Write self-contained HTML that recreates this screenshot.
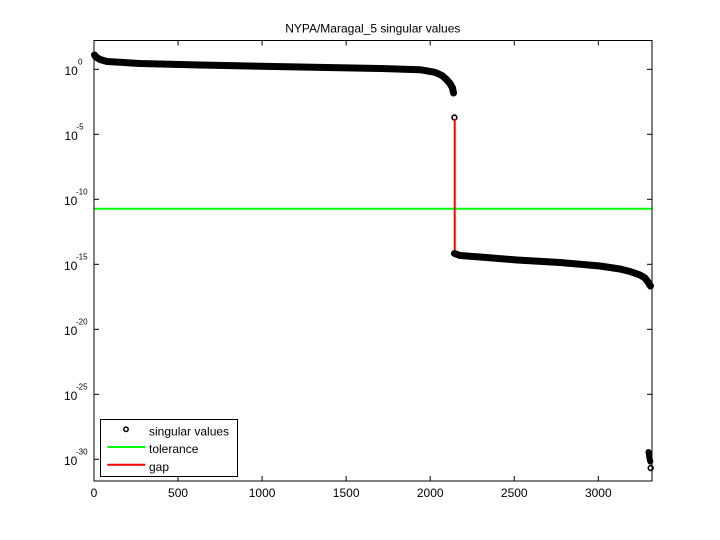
<!DOCTYPE html>
<html><head><meta charset="utf-8"><style>
html,body{margin:0;padding:0;background:#fff;}
svg{display:block;}
text{font-family:"Liberation Sans",Arial,sans-serif;fill:#000;}
</style></head><body>
<svg width="720" height="540" viewBox="0 0 720 540" xmlns="http://www.w3.org/2000/svg">
<rect x="0" y="0" width="720" height="540" fill="#fff"/>
<!-- title -->
<text x="372.8" y="32.5" font-size="12" text-anchor="middle">NYPA/Maragal_5 singular values</text>

<!-- tolerance line -->
<line x1="94" y1="208.7" x2="652" y2="208.7" stroke="#00ff00" stroke-width="2"/>

<!-- upper branch -->
<polyline fill="none" stroke="#000" stroke-width="7" stroke-linejoin="round" stroke-linecap="round"
 points="94.5,55 96,57 100,59.5 107,61.5 140,63.5 200,65 300,67 380,68.5 420,69.7 435,72.3 442,75.5 446,79 450,83.5 452.5,88 453.5,93"/>
<!-- gap point -->
<circle cx="454.4" cy="117.5" r="2.4" fill="none" stroke="#000" stroke-width="1.6"/>
<!-- red gap line -->
<line x1="454.7" y1="119" x2="454.7" y2="253" stroke="#ff0000" stroke-width="2"/>
<!-- lower branch -->
<polyline fill="none" stroke="#000" stroke-width="7" stroke-linejoin="round" stroke-linecap="round"
 points="454.5,253.5 460,255.5 480,257 517,260 560,262.5 600,266 620,269 630,271.5 640,275 645,278 648,282 650.5,286"/>
<!-- bottom right points -->
<polyline fill="none" stroke="#000" stroke-width="6" stroke-linejoin="round" stroke-linecap="round"
 points="648.5,452 649,454.5 649.3,457 649.8,459.5 650.3,461.5"/>
<circle cx="650.7" cy="468" r="2.4" fill="#fff" stroke="#000" stroke-width="1.6"/>

<!-- axes box -->
<rect x="94" y="40.5" width="558" height="440.5" fill="none" stroke="#000" stroke-width="1"/>

<!-- x ticks -->
<g stroke="#000" stroke-width="1">
<line x1="94" y1="481" x2="94" y2="476"/><line x1="94" y1="40.5" x2="94" y2="45.5"/>
<line x1="178.05" y1="481" x2="178.05" y2="476"/><line x1="178.05" y1="40.5" x2="178.05" y2="45.5"/>
<line x1="262.1" y1="481" x2="262.1" y2="476"/><line x1="262.1" y1="40.5" x2="262.1" y2="45.5"/>
<line x1="346.15" y1="481" x2="346.15" y2="476"/><line x1="346.15" y1="40.5" x2="346.15" y2="45.5"/>
<line x1="430.2" y1="481" x2="430.2" y2="476"/><line x1="430.2" y1="40.5" x2="430.2" y2="45.5"/>
<line x1="514.25" y1="481" x2="514.25" y2="476"/><line x1="514.25" y1="40.5" x2="514.25" y2="45.5"/>
<line x1="598.3" y1="481" x2="598.3" y2="476"/><line x1="598.3" y1="40.5" x2="598.3" y2="45.5"/>
</g>
<g font-size="12" text-anchor="middle">
<text x="94" y="497">0</text>
<text x="178.05" y="497">500</text>
<text x="262.1" y="497">1000</text>
<text x="346.15" y="497">1500</text>
<text x="430.2" y="497">2000</text>
<text x="514.25" y="497">2500</text>
<text x="598.3" y="497">3000</text>
</g>

<!-- y ticks -->
<g stroke="#000" stroke-width="1">
<line x1="94" y1="69.3" x2="99" y2="69.3"/><line x1="652" y1="69.3" x2="647" y2="69.3"/>
<line x1="94" y1="134.3" x2="99" y2="134.3"/><line x1="652" y1="134.3" x2="647" y2="134.3"/>
<line x1="94" y1="199.3" x2="99" y2="199.3"/><line x1="652" y1="199.3" x2="647" y2="199.3"/>
<line x1="94" y1="264.3" x2="99" y2="264.3"/><line x1="652" y1="264.3" x2="647" y2="264.3"/>
<line x1="94" y1="329.3" x2="99" y2="329.3"/><line x1="652" y1="329.3" x2="647" y2="329.3"/>
<line x1="94" y1="394.3" x2="99" y2="394.3"/><line x1="652" y1="394.3" x2="647" y2="394.3"/>
<line x1="94" y1="459.3" x2="99" y2="459.3"/><line x1="652" y1="459.3" x2="647" y2="459.3"/>
</g>
<g font-size="12">
<text x="64.5" y="74.8">10</text><text x="78" y="64.3" font-size="8">0</text>
<text x="64.5" y="139.8">10</text><text x="76.5" y="129.3" font-size="8">-5</text>
<text x="64" y="204.8">10</text><text x="76" y="194.3" font-size="8">-10</text>
<text x="64" y="269.8">10</text><text x="76" y="259.3" font-size="8">-15</text>
<text x="64" y="334.8">10</text><text x="76" y="324.3" font-size="8">-20</text>
<text x="64" y="399.8">10</text><text x="76" y="389.3" font-size="8">-25</text>
<text x="64" y="464.8">10</text><text x="76" y="454.3" font-size="8">-30</text>
</g>

<!-- legend -->
<rect x="100.5" y="419.5" width="137" height="57" fill="#fff" stroke="#000" stroke-width="1"/>
<circle cx="126" cy="429.3" r="2.2" fill="none" stroke="#000" stroke-width="1.5"/>
<text x="149" y="435.5" font-size="12">singular values</text>
<line x1="107.3" y1="447" x2="145" y2="447" stroke="#00ff00" stroke-width="2"/>
<text x="149" y="453.2" font-size="12">tolerance</text>
<line x1="107.3" y1="464.7" x2="145" y2="464.7" stroke="#ff0000" stroke-width="2"/>
<text x="149" y="470.9" font-size="12">gap</text>
</svg>
</body></html>
